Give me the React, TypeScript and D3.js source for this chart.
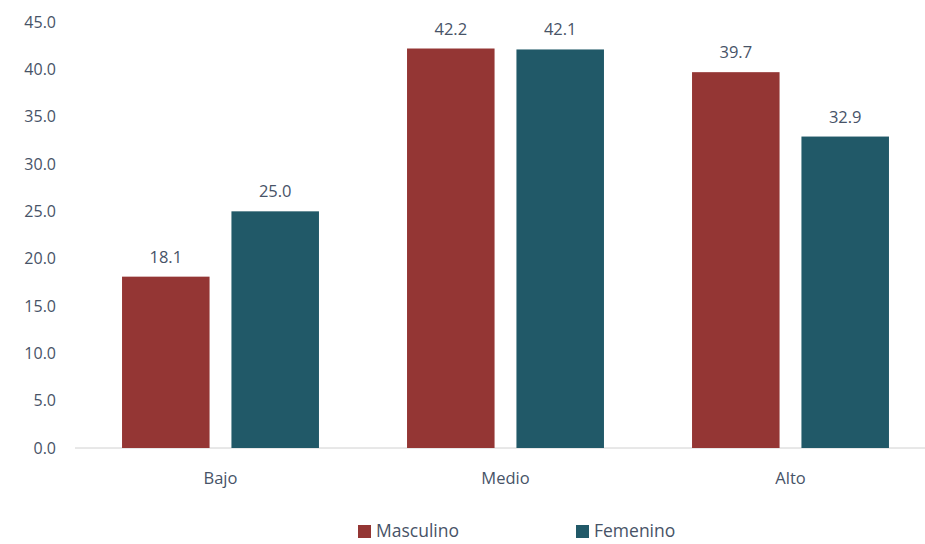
import React from "react";
import * as d3 from "d3";

const categories = ["Bajo", "Medio", "Alto"];
const seriesNames = ["Masculino", "Femenino"];
const masculino = [18.1, 42.2, 39.7];
const femenino = [25.0, 42.1, 32.9];
const yTicks = [0, 5, 10, 15, 20, 25, 30, 35, 40, 45];
const colors = ["#943634", "#215968"];

export default function App() {
  const W = 925, H = 544;
  const x0 = d3.scaleBand<string>().domain(categories).range([78, 933]).paddingInner(0.309).paddingOuter(0.1545);
  const x1 = d3.scaleBand<string>().domain(seriesNames).range([0, x0.bandwidth()]).paddingInner(0.2);
  const y = d3.scaleLinear().domain([0, 45]).range([448, 22]);
  const values = [masculino, femenino];
  const font = "'Open Sans', sans-serif";
  const txt = "#475367";
  return (
    <svg width={W} height={H} style={{ position: "absolute", left: 0, top: 0, background: "#fff" }}>
      <rect width={W} height={H} fill="#fff" />
      {yTicks.map((t) => (
        <text key={t} x={56} y={y(t)} dy="0.35em" textAnchor="end" fontFamily={font} fontSize={16} fill={txt}>
          {t.toFixed(1)}
        </text>
      ))}
      <line x1={75} x2={W} y1={y(0)} y2={y(0)} stroke="#d0d0d0" strokeWidth={1} />
      {categories.map((c, i) => (
        <g key={c} transform={`translate(${x0(c)},0)`}>
          {seriesNames.map((s, j) => {
            const v = values[j][i];
            const bx = x1(s)!;
            return (
              <g key={s}>
                <rect x={bx} y={y(v)} width={x1.bandwidth()} height={y(0) - y(v)} fill={colors[j]} />
                <text x={bx + x1.bandwidth() / 2} y={y(v) - 14} textAnchor="middle" fontFamily={font} fontSize={16.5} fill={txt}>
                  {v.toFixed(1)}
                </text>
              </g>
            );
          })}
          <text x={x0.bandwidth() / 2} y={484} textAnchor="middle" fontFamily={font} fontSize={16.5} fill={txt}>
            {c}
          </text>
        </g>
      ))}
      {seriesNames.map((s, j) => {
        const lx = [358, 576][j];
        return (
          <g key={s}>
            <rect x={lx} y={525} width={13} height={13} fill={colors[j]} />
            <text x={lx + 18} y={537} fontFamily={font} fontSize={17.5} fill={txt}>
              {s}
            </text>
          </g>
        );
      })}
    </svg>
  );
}
